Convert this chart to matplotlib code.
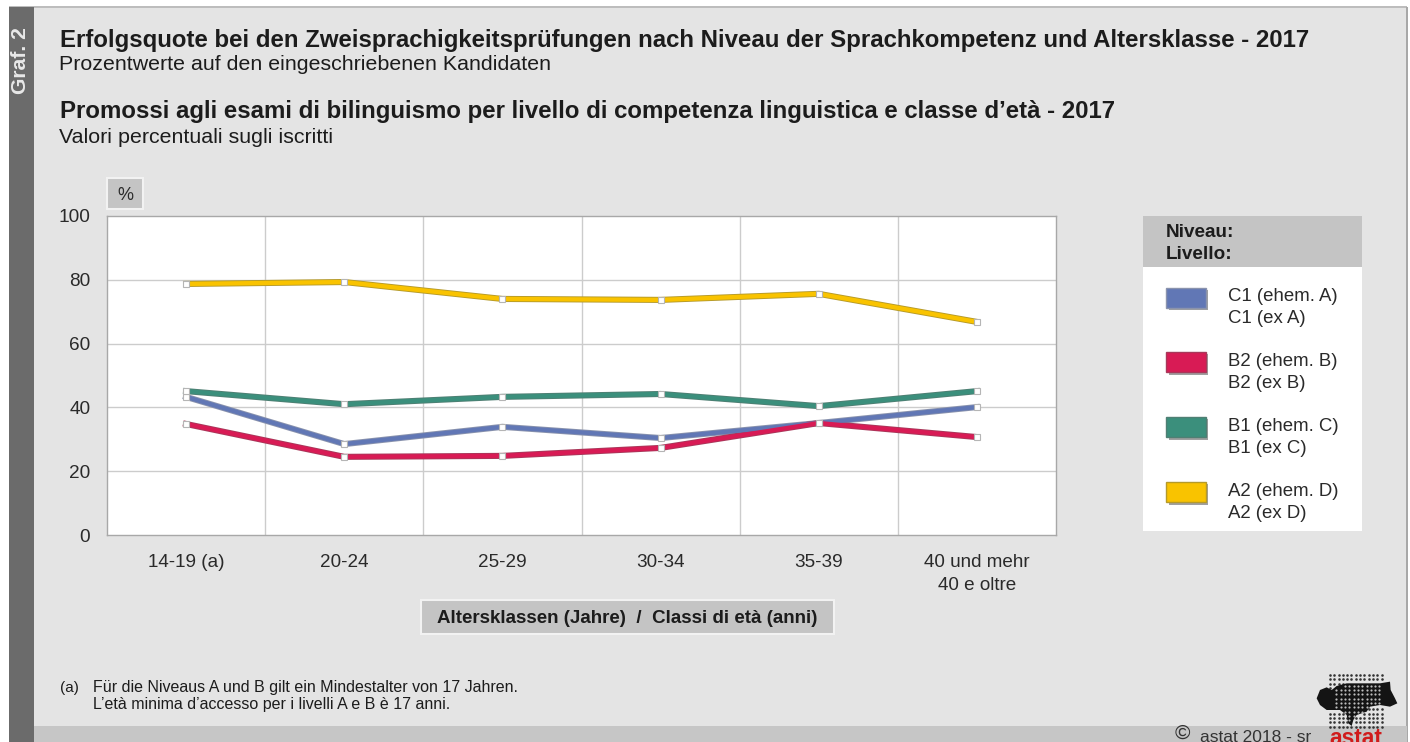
import numpy as np
import matplotlib
matplotlib.use("Agg")
import matplotlib.pyplot as plt
from matplotlib.patches import Rectangle, Polygon
from matplotlib.path import Path

plt.rcParams['font.family'] = ['Liberation Sans', 'DejaVu Sans']

categories = ['14-19 (a)', '20-24', '25-29', '30-34', '35-39', '40 und mehr\n40 e oltre']
c1 = [43.3, 28.5, 33.9, 30.4, 35.1, 40.1]
b2 = [34.8, 24.5, 24.8, 27.3, 35.1, 30.7]
b1 = [45.1, 41.0, 43.3, 44.2, 40.4, 45.1]
a2 = [78.7, 79.3, 74.0, 73.7, 75.6, 66.8]
series_names = ['C1 (ehem. A)\nC1 (ex A)', 'B2 (ehem. B)\nB2 (ex B)',
                'B1 (ehem. C)\nB1 (ex C)', 'A2 (ehem. D)\nA2 (ex D)']
series_values = [c1, b2, b1, a2]
series_colors = ['#6177b5', '#d81b55', '#3b8f7c', '#f9c300']
edge_colors = ['#8a93ad', '#a8385a', '#4f7f73', '#b59a2a']
yticks = [0, 20, 40, 60, 80, 100]

W, H = 1410, 742
fig = plt.figure(figsize=(W / 100, H / 100), dpi=100, facecolor='white')

bg = fig.add_axes([0, 0, 1, 1])
bg.set_xlim(0, W)
bg.set_ylim(H, 0)
bg.axis('off')


def rect(x0, y0, x1, y1, fc, ec='none', lw=0, z=1):
    bg.add_patch(Rectangle((x0, y0), x1 - x0, y1 - y0, fc=fc, ec=ec, lw=lw, zorder=z))


# panel
rect(9, 7, 1407, 742, '#e4e4e4')
rect(9, 6, 1407, 8, '#bdbdbd', z=2)
rect(1406, 7, 1408, 742, '#a8a8a8', z=2)
rect(9, 7, 34, 742, '#6b6b6b', z=3)
rect(34, 726, 1407, 742, '#c6c6c6', z=2)
bg.text(21, 61, 'Graf. 2', rotation=90, color='#e8e8e8', fontsize=15.2, fontweight='bold',
        ha='center', va='center', zorder=4)

# headings
dark = '#1c1c1c'
bg.text(60, 40, 'Erfolgsquote bei den Zweisprachigkeitsprüfungen nach Niveau der Sprachkompetenz und Altersklasse - 2017',
        fontsize=17.3, fontweight='bold', color=dark, va='center', zorder=4)
bg.text(59, 64.5, 'Prozentwerte auf den eingeschriebenen Kandidaten', fontsize=15.4, color=dark, va='center', zorder=4)
bg.text(60, 111.5, "Promossi agli esami di bilinguismo per livello di competenza linguistica e classe d’età - 2017",
        fontsize=17.3, fontweight='bold', color=dark, va='center', zorder=4)
bg.text(59, 137.5, 'Valori percentuali sugli iscritti', fontsize=15.4, color=dark, va='center', zorder=4)

# % box
rect(107, 178, 143, 209, '#c4c4c4', ec='#f2f2f2', lw=1.5, z=2)
bg.text(125, 195.5, '%', fontsize=13, color='#2a2a2a', ha='center', va='center', zorder=4)

# chart axes
L, R, T, B = 107, 1056, 216, 535
ax = fig.add_axes([L / W, 1 - B / H, (R - L) / W, (B - T) / H], facecolor='white', zorder=5)
x = np.arange(len(categories))
ax.set_xlim(-0.5, len(categories) - 0.5)
ax.set_ylim(0, 100)
ax.set_yticks(yticks)
ax.set_xticks(x)
ax.set_xticklabels(categories, fontsize=13.6, color='#2a2a2a', linespacing=1.42)
ax.set_yticklabels([str(v) for v in yticks], fontsize=13.7, color='#2a2a2a')
ax.tick_params(axis='both', length=0)
ax.tick_params(axis='x', pad=14)
ax.tick_params(axis='y', pad=12)
for v in x[:-1] + 0.5:
    ax.axvline(v, color='#cccccc', lw=1.0, zorder=1)
for v in yticks[1:-1]:
    ax.axhline(v, color='#cccccc', lw=1.0, zorder=1)
for s in ax.spines.values():
    s.set_color('#a8a8a8')
    s.set_linewidth(1.0)
for vals, col, ecol in zip(series_values, series_colors, edge_colors):
    ax.plot(x, vals, color=ecol, lw=4.4, zorder=3, solid_joinstyle='miter')
    ax.plot(x, vals, color=col, lw=3.1, zorder=3.1, solid_joinstyle='miter')
    ax.plot(x, vals, ls='none', marker='s', ms=4.4, mfc='white', mec='#b5b5b5', mew=0.8, zorder=4)

# axis caption
rect(421, 600, 834, 634, '#c4c4c4', ec='#f2f2f2', lw=1.5, z=2)
bg.text(627, 618.5, 'Altersklassen (Jahre)  /  Classi di età (anni)', fontsize=13.5, fontweight='bold',
        color=dark, ha='center', va='center', zorder=4)

# legend
rect(1143, 216, 1362, 531, 'white', z=2)
rect(1143, 216, 1362, 267, '#c4c4c4', z=3)
bg.text(1166, 243.5, 'Niveau:\nLivello:', fontsize=13.6, fontweight='bold', color=dark, va='center',
        linespacing=1.38, zorder=4)
for i, (name, col, ecol) in enumerate(zip(series_names, series_colors, edge_colors)):
    y0 = 287.5 + i * 64.9
    rect(1168.5, y0 + 2, 1208, y0 + 22.5, '#a0a0a0', z=3)
    rect(1166, y0, 1205.5, y0 + 20, col, ec=ecol, lw=1, z=4)
    bg.text(1228, y0 + 20, name, fontsize=13.4, color='#2a2a2a', va='center', linespacing=1.38, zorder=4)

# footnote
bg.text(60, 688, '(a)', fontsize=11, color=dark, va='center', zorder=4)
bg.text(93, 696, 'Für die Niveaus A und B gilt ein Mindestalter von 17 Jahren.\nL’età minima d’accesso per i livelli A e B è 17 anni.',
        fontsize=11.5, color=dark, va='center', linespacing=1.15, zorder=4)

# copyright and logo
bg.text(1182, 733.5, '©', fontsize=15, color='#333333', ha='center', va='center', zorder=4)
bg.text(1200, 737, 'astat 2018 - sr', fontsize=12.5, color='#333333', va='center', zorder=4)
bg.text(1356, 738.5, 'astat', fontsize=16.4, fontweight='bold', color='#d01c1c', ha='center', va='center',
        clip_on=True, zorder=4)
logo_zoom = [(500, 115), (510, 90), (530, 82), (545, 90), (560, 78), (590, 70), (640, 70), (690, 70), (720, 65),
             (722, 90), (735, 115), (742, 130), (720, 140), (690, 135), (660, 140), (650, 155), (620, 165),
             (610, 180), (605, 198), (595, 190), (590, 165), (570, 150), (530, 150), (510, 135)]
logo_pts = [(1150 + a / 3, 660 + b / 3) for a, b in logo_zoom]
gx, gy = np.meshgrid(np.arange(1330, 1383, 4.3), np.arange(675, 727, 4.3))
gx, gy = gx.ravel(), gy.ravel()
logo_path = Path(logo_pts)
inside = logo_path.contains_points(np.column_stack([gx, gy]))
bg.scatter(gx[~inside], gy[~inside], s=3.5, color='#333333', lw=0, zorder=4)
bg.add_patch(Polygon(logo_pts, fc='#141414', ec='none', zorder=5))
hx, hy = gx + 2.15, gy + 2.15
gaps = logo_path.contains_points(np.column_stack([hx, hy]), radius=-2.5) & (hx > 1334) & (hx < 1380)
if gaps.sum() == 0:
    gaps = logo_path.contains_points(np.column_stack([hx, hy])) & (hx > 1334) & (hx < 1380)
bg.scatter(hx[gaps], hy[gaps], s=2.5, color='#bdbdbd', lw=0, zorder=6)

fig.savefig('out.png', dpi=100)
